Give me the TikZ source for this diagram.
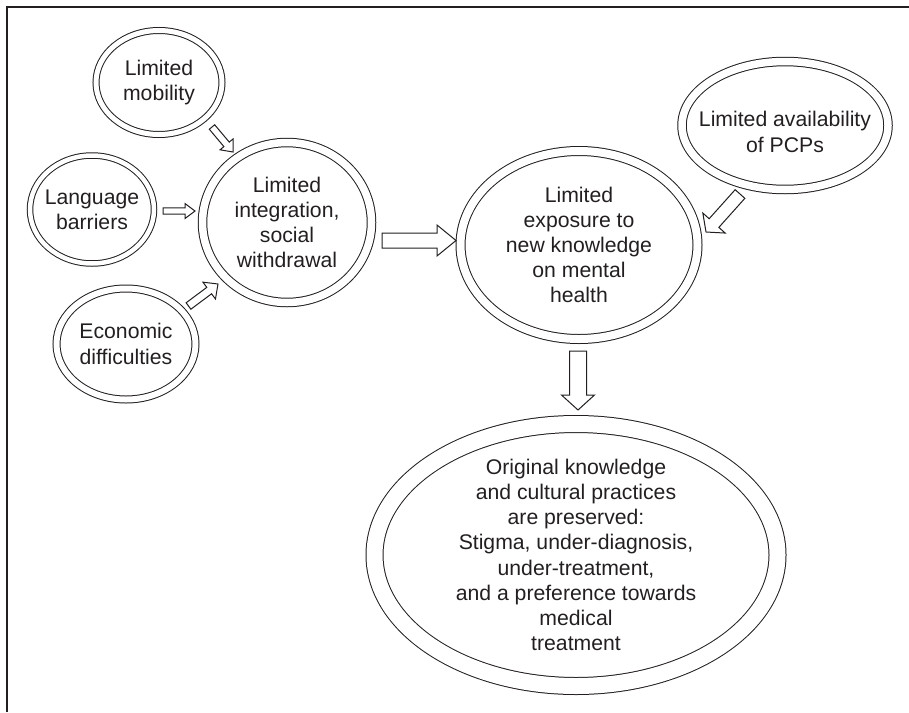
\documentclass[tikz,border=0pt]{standalone}
\usepackage{fontspec}
\setmainfont{Liberation Sans}
\usetikzlibrary{shapes.geometric,calc}

\definecolor{ink}{HTML}{231F20}

% outlined block arrow: from, to, half shaft, half head, head length
\newcommand{\blockarrow}[5]{%
  \coordinate (ba-h) at ($(#2)!#5!(#1)$);
  \draw[blockarr] ($(#1)!#3!90:(#2)$) -- ($(ba-h)!#3!90:(#2)$) -- ($(ba-h)!#4!90:(#2)$) -- (#2)
    -- ($(ba-h)!#4!-90:(#2)$) -- ($(ba-h)!#3!-90:(#2)$) -- ($(#1)!#3!-90:(#2)$) -- cycle;}

\begin{document}
\begin{tikzpicture}[x=0.5pt,y=-0.5pt,
  bubble/.style={ellipse,draw=ink,text=ink,double,line width=0.5pt,inner sep=-8pt,align=center,
    font=\fontsize{10.6}{12.6}\selectfont},
  blockarr/.style={draw=ink,fill=white,line width=0.5pt,line join=miter}]
  \useasboundingbox (0,0) rectangle (909,712);
  \draw[ink,line width=1pt] (7,712) -- (7,7) -- (909,7);

  \node[bubble,double distance=2.5pt,minimum width=63pt,minimum height=52pt] (mob) at (159,82.5) {Limited\\mobility};
  \node[bubble,double distance=2.25pt,minimum width=62pt,minimum height=54pt] (lang) at (92,209.5) {Language\\barriers};
  \node[bubble,double distance=3pt,minimum width=69.5pt,minimum height=55.5pt] (econ) at (126,344) {Economic\\difficulties};
  \node[bubble,double distance=3.75pt,minimum width=84.5pt,minimum height=80pt] (integ) at (287,222.5) {Limited\\integration,\\social\\withdrawal};
  \node[bubble,double distance=4pt,minimum width=118.5pt,minimum height=94pt] (expo) at (579,245) {Limited\\exposure to\\new knowledge\\on mental\\health};
  \node[bubble,double distance=3.75pt,minimum width=103pt,minimum height=64pt] (pcp) at (785,125.5)
    {\raisebox{-4.5pt}[\height][\depth]{\begin{tabular}{@{}c@{}}Limited availability\\of PCPs\end{tabular}}};
  \node[bubble,double distance=8pt,minimum width=201.5pt,minimum height=131pt] (orig) at (576,555)
    {Original knowledge\\and cultural practices\\are preserved:\\Stigma, under-diagnosis,\\under-treatment,\\and a preference towards\\medical\\treatment};

  \coordinate (mobA) at ($(mob.center)+(53,44.5)$);
  \coordinate (mobB) at ($(integ.center)+(-54,-70.5)$);
  \coordinate (langA) at ($(lang.center)+(71,1.5)$);
  \coordinate (langB) at ($(integ.center)+(-92,-11.5)$);
  \coordinate (econA) at ($(econ.center)+(62.5,-38)$);
  \coordinate (econB) at ($(integ.center)+(-69,61.5)$);
  \coordinate (integA) at ($(integ.center)+(95,18)$);
  \coordinate (integB) at ($(expo.center)+(-123,-4.5)$);
  \coordinate (pcpA) at ($(pcp.center)+(-45,68.5)$);
  \coordinate (pcpB) at ($(expo.center)+(127,-13)$);
  \coordinate (expoA) at ($(expo.center)+(-1,106)$);
  \coordinate (expoB) at ($(orig.center)+(2,-145)$);

  \blockarrow{mobA}{mobB}{1.75pt}{4.25pt}{5pt}
  \blockarrow{langA}{langB}{1.6pt}{3.75pt}{5pt}
  \blockarrow{econA}{econB}{2pt}{5.25pt}{5.5pt}
  \blockarrow{integA}{integB}{3.75pt}{7.75pt}{9.5pt}
  \blockarrow{pcpA}{pcpB}{3.25pt}{7.5pt}{6pt}
  \blockarrow{expoA}{expoB}{4.25pt}{8.25pt}{7.5pt}
\end{tikzpicture}
\end{document}
